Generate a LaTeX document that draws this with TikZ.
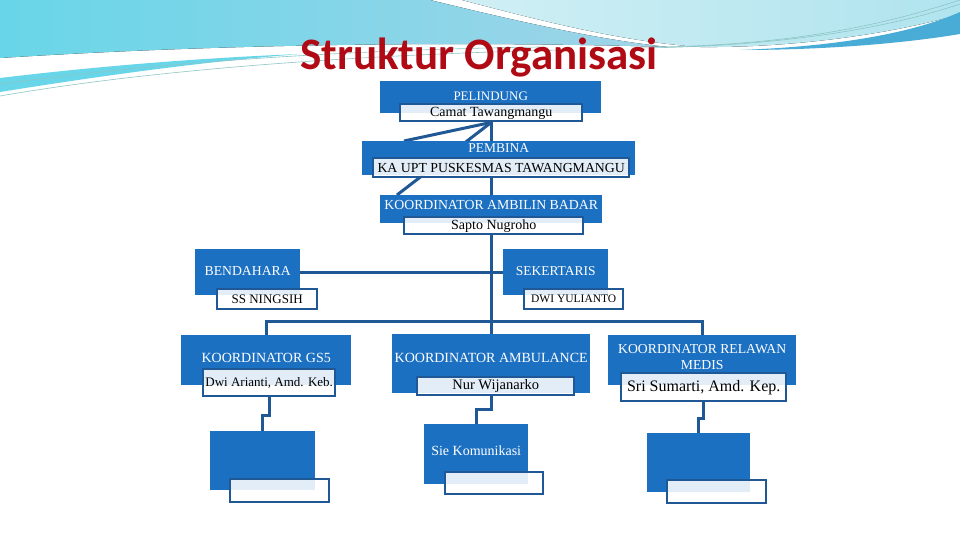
\documentclass[tikz,border=0pt]{standalone}
\usepackage{fontspec}
\setmainfont{Liberation Serif}
\newfontfamily\titlefont{Carlito}
\usetikzlibrary{backgrounds}

\definecolor{boxblue}{RGB}{28,112,194}
\definecolor{linkblue}{RGB}{31,88,148}
\definecolor{titlered}{RGB}{176,10,20}
\definecolor{swcyan}{RGB}{104,214,232}
\definecolor{swsteel}{RGB}{124,180,214}
\definecolor{swlight}{RGB}{160,212,232}
\definecolor{swaqua}{RGB}{176,228,238}
\definecolor{swband}{RGB}{72,172,214}

\begin{document}
\begin{tikzpicture}[x=1pt, y=-1pt,
    unit/.style={rectangle, fill=boxblue, text=white, inner sep=0pt,
                 anchor=north west, font=\fontsize{14}{15}\selectfont},
    holder/.style={rectangle, draw=linkblue, line width=2.4pt, fill=white,
                   fill opacity=0.88, text opacity=1, text=black, inner sep=0pt,
                   anchor=north west, font=\fontsize{14}{15}\selectfont},
    link/.style={draw=linkblue, line width=3pt},
    swline/.style={draw=teal!45, line width=0.6pt}
]
    \useasboundingbox (0,0) rectangle (960,540);

    % Title
    \node[font=\titlefont\bfseries\fontsize{45}{50}\selectfont, text=titlered,
          anchor=base] (title) at (479,70) {Struktur Organisasi};

    % Top levels
    \node[unit, minimum width=221pt, text height=19pt, text depth=13pt,
          font=\fontsize{13}{14}\selectfont] (pel) at (380,81) {PELINDUNG};
    \node[holder, minimum width=182pt, minimum height=17pt, text height=10pt, text depth=3pt,
          font=\fontsize{14}{15}\selectfont] (pelname) at (399,103) {Camat Tawangmangu};

    \node[unit, minimum width=273pt, text height=11pt, text depth=23pt,
          font=\fontsize{13.5}{15}\selectfont] (pem) at (362,141) {PEMBINA};
    \node[holder, minimum width=256pt, minimum height=19pt,
          font=\fontsize{13.8}{15}\selectfont] (pemname) at (372,157) {KA UPT PUSKESMAS TAWANGMANGU};

    \node[unit, minimum width=222pt, text height=14pt, text depth=14pt,
          font=\fontsize{13.8}{15}\selectfont] (koor) at (380,195) {KOORDINATOR AMBILIN BADAR};
    \node[holder, minimum width=179pt, minimum height=17pt, text height=10pt, text depth=3pt,
          font=\fontsize{14}{15}\selectfont] (koorname) at (403,216) {Sapto Nugroho};

    % Staff
    \node[unit, minimum width=105pt, text height=26pt, text depth=20pt,
          font=\fontsize{13.7}{15}\selectfont] (bend) at (195,249) {BENDAHARA};
    \node[holder, minimum width=100pt, minimum height=20pt,
          font=\fontsize{13}{14}\selectfont] (bendname) at (216,288) {SS NINGSIH};

    \node[unit, minimum width=105pt, text height=26pt, text depth=20pt,
          font=\fontsize{13.5}{15}\selectfont] (sek) at (503,249) {SEKERTARIS};
    \node[holder, minimum width=99pt, minimum height=20pt,
          font=\fontsize{11.5}{12}\selectfont] (sekname) at (523,288) {DWI YULIANTO};

    % Coordinators
    \node[unit, minimum width=170pt, text height=27pt, text depth=23pt] (gs) at (181,335) {KOORDINATOR GS5};
    \node[holder, minimum width=132pt, minimum height=27pt,
          font=\fontsize{13}{14}\selectfont] (gsname) at (202,368) {Dwi Arianti, Amd. Keb.};

    \node[unit, minimum width=198pt, text height=28pt, text depth=31pt] (amb) at (392,334) {KOORDINATOR AMBULANCE};
    \node[holder, minimum width=157pt, minimum height=18pt,
          font=\fontsize{14.5}{15}\selectfont] (ambname) at (416,376) {Nur Wijanarko};

    \node[unit, minimum width=188pt, text height=34pt, text depth=16pt, align=center,
          font=\fontsize{13.7}{16}\selectfont] (rel) at (608,335) {KOORDINATOR RELAWAN\\MEDIS};
    \node[holder, minimum width=165pt, minimum height=28pt,
          font=\fontsize{16}{17}\selectfont] (relname) at (620,372) {Sri Sumarti, Amd. Kep.};

    % Sub units
    \node[unit, minimum width=105pt, minimum height=59pt] (gssub) at (210,431) {};
    \node[holder, minimum width=99pt, minimum height=23pt] (gssubname) at (229,478) {};

    \node[unit, minimum width=104pt, text height=31pt, text depth=29pt] (kom) at (424,424) {Sie Komunikasi};
    \node[holder, minimum width=98pt, minimum height=22pt] (komname) at (444,471) {};

    \node[unit, minimum width=103pt, minimum height=59pt] (relsub) at (647,433) {};
    \node[holder, minimum width=99pt, minimum height=23pt] (relsubname) at (666,479) {};

    \coordinate (pemtip) at (404,141);
    \coordinate (koortip) at (397,195);

    \begin{scope}[on background layer]
        % Page and swooshes
        \fill[white] (0,0) rectangle (960,540);
        \fill[left color=swcyan, middle color=swsteel, right color=swlight] (0,0) -- (430,0)
            .. controls (520,22) and (600,40) .. (668,47)
            .. controls (500,42) and (250,42) .. (0,58) -- cycle;
        \fill[swcyan] (0,78) .. controls (100,66) and (200,58) .. (300,54)
            .. controls (200,62) and (100,76) .. (0,92) -- cycle;
        \fill[left color=swaqua!60, right color=swaqua] (462,0)
            .. controls (560,26) and (630,42) .. (700,47)
            .. controls (800,48) and (900,32) .. (960,14) -- (960,0) -- cycle;
        \fill[swband] (740,50) .. controls (850,46) and (920,30) .. (960,12)
            -- (960,34) .. controls (900,44) and (820,50) .. (740,50) -- cycle;
        \draw[swline] (0,96) .. controls (150,70) and (350,55) .. (560,50);
        \draw[swline] (0,84) .. controls (150,64) and (330,50) .. (540,47);
        \draw[swline] (640,48) .. controls (800,46) and (900,24) .. (960,4);
        \draw[swline] (660,47) .. controls (820,44) and (910,16) .. (960,0);

        % Links
        \draw[link] (pelname.south) -- (pem.north -| pelname.south);
        \draw[link] (pelname.south) -- (pemtip);
        \draw[link] (pelname.south) -- (koortip);
        \draw[link] (pemname.south -| pelname.south) -- (koor.north -| pelname.south);
        \draw[link] (koorname.south -| pelname.south) -- (amb.north -| pelname.south);
        \draw[link] (bend.east) -- (sek.west);
        \draw[link] (gs.north) -- ++(0,-14) -| (rel.north);
        \draw[link] (gsname.south) -- ++(0,18) -| (gssub.north);
        \draw[link] (ambname.south -| pelname.south) -- ++(0,13) -| (kom.north);
        \draw[link] (relname.south) -- ++(0,16) -| (relsub.north);
    \end{scope}
\end{tikzpicture}
\end{document}
